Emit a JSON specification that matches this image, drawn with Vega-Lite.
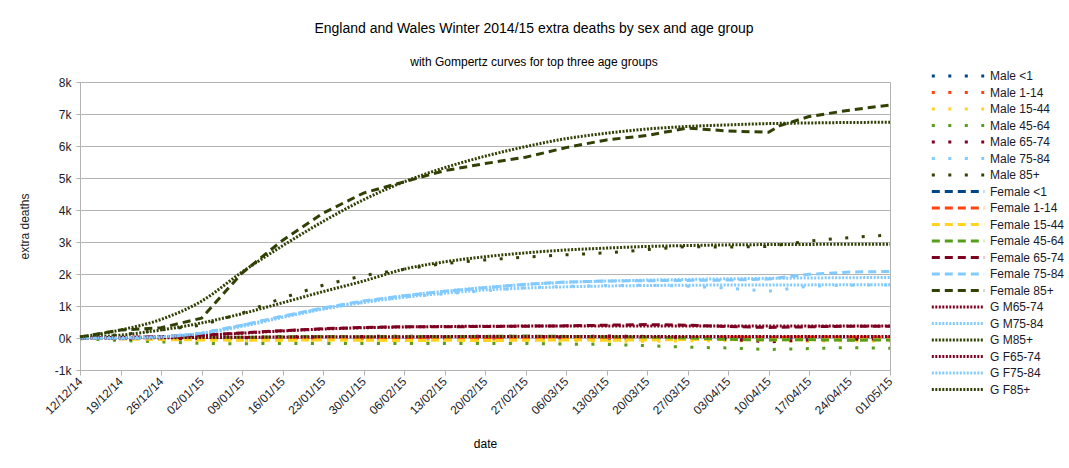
{
"$schema": "https://vega.github.io/schema/vega-lite/v6.json",
"autosize": "none",
"width": 810, "height": 288,
"padding": {"left": 80, "top": 82, "right": 179, "bottom": 98},
"background": "white",
"config": {"font": "Liberation Sans", "view": {"stroke": "#b3b3b3"}},
"title": {"text": "England and Wales Winter 2014/15 extra deaths by sex and age group", "subtitle": "with Gompertz curves for top three age groups", "fontSize": 14, "fontWeight": "normal", "color": "#000", "subtitleFontSize": 12, "subtitleColor": "#000", "subtitleFont": "Liberation Sans", "font": "Liberation Sans", "anchor": "middle", "frame": "group", "dx": 49, "subtitlePadding": 21, "offset": 2},
"datasets": {"pts": [
{"s":"Male <1","d":"2014/12/12","v":0},{"s":"Male <1","d":"2014/12/19","v":5},{"s":"Male <1","d":"2014/12/26","v":-5},{"s":"Male <1","d":"2015/01/02","v":0},{"s":"Male <1","d":"2015/01/09","v":-10},{"s":"Male <1","d":"2015/01/16","v":5},{"s":"Male <1","d":"2015/01/23","v":0},{"s":"Male <1","d":"2015/01/30","v":-5},{"s":"Male <1","d":"2015/02/06","v":10},{"s":"Male <1","d":"2015/02/13","v":0},{"s":"Male <1","d":"2015/02/20","v":-5},{"s":"Male <1","d":"2015/02/27","v":5},{"s":"Male <1","d":"2015/03/06","v":0},{"s":"Male <1","d":"2015/03/13","v":-10},{"s":"Male <1","d":"2015/03/20","v":5},{"s":"Male <1","d":"2015/03/27","v":0},{"s":"Male <1","d":"2015/04/03","v":10},{"s":"Male <1","d":"2015/04/10","v":-5},{"s":"Male <1","d":"2015/04/17","v":0},{"s":"Male <1","d":"2015/04/24","v":5},{"s":"Male <1","d":"2015/05/01","v":0},
{"s":"Male 1-14","d":"2014/12/12","v":0},{"s":"Male 1-14","d":"2014/12/19","v":10},{"s":"Male 1-14","d":"2014/12/26","v":5},{"s":"Male 1-14","d":"2015/01/02","v":-10},{"s":"Male 1-14","d":"2015/01/09","v":0},{"s":"Male 1-14","d":"2015/01/16","v":10},{"s":"Male 1-14","d":"2015/01/23","v":5},{"s":"Male 1-14","d":"2015/01/30","v":0},{"s":"Male 1-14","d":"2015/02/06","v":15},{"s":"Male 1-14","d":"2015/02/13","v":5},{"s":"Male 1-14","d":"2015/02/20","v":0},{"s":"Male 1-14","d":"2015/02/27","v":10},{"s":"Male 1-14","d":"2015/03/06","v":20},{"s":"Male 1-14","d":"2015/03/13","v":10},{"s":"Male 1-14","d":"2015/03/20","v":30},{"s":"Male 1-14","d":"2015/03/27","v":20},{"s":"Male 1-14","d":"2015/04/03","v":40},{"s":"Male 1-14","d":"2015/04/10","v":30},{"s":"Male 1-14","d":"2015/04/17","v":40},{"s":"Male 1-14","d":"2015/04/24","v":30},{"s":"Male 1-14","d":"2015/05/01","v":40},
{"s":"Male 15-44","d":"2014/12/12","v":0},{"s":"Male 15-44","d":"2014/12/19","v":-40},{"s":"Male 15-44","d":"2014/12/26","v":-60},{"s":"Male 15-44","d":"2015/01/02","v":-80},{"s":"Male 15-44","d":"2015/01/09","v":-90},{"s":"Male 15-44","d":"2015/01/16","v":-80},{"s":"Male 15-44","d":"2015/01/23","v":-100},{"s":"Male 15-44","d":"2015/01/30","v":-90},{"s":"Male 15-44","d":"2015/02/06","v":-100},{"s":"Male 15-44","d":"2015/02/13","v":-110},{"s":"Male 15-44","d":"2015/02/20","v":-100},{"s":"Male 15-44","d":"2015/02/27","v":-100},{"s":"Male 15-44","d":"2015/03/06","v":-90},{"s":"Male 15-44","d":"2015/03/13","v":-100},{"s":"Male 15-44","d":"2015/03/20","v":-110},{"s":"Male 15-44","d":"2015/03/27","v":-90},{"s":"Male 15-44","d":"2015/04/03","v":-80},{"s":"Male 15-44","d":"2015/04/10","v":-90},{"s":"Male 15-44","d":"2015/04/17","v":-100},{"s":"Male 15-44","d":"2015/04/24","v":-90},{"s":"Male 15-44","d":"2015/05/01","v":-90},
{"s":"Male 45-64","d":"2014/12/12","v":-20},{"s":"Male 45-64","d":"2014/12/19","v":-80},{"s":"Male 45-64","d":"2014/12/26","v":-120},{"s":"Male 45-64","d":"2015/01/02","v":-170},{"s":"Male 45-64","d":"2015/01/09","v":-180},{"s":"Male 45-64","d":"2015/01/16","v":-170},{"s":"Male 45-64","d":"2015/01/23","v":-170},{"s":"Male 45-64","d":"2015/01/30","v":-170},{"s":"Male 45-64","d":"2015/02/06","v":-170},{"s":"Male 45-64","d":"2015/02/13","v":-170},{"s":"Male 45-64","d":"2015/02/20","v":-170},{"s":"Male 45-64","d":"2015/02/27","v":-170},{"s":"Male 45-64","d":"2015/03/06","v":-190},{"s":"Male 45-64","d":"2015/03/13","v":-200},{"s":"Male 45-64","d":"2015/03/20","v":-240},{"s":"Male 45-64","d":"2015/03/27","v":-290},{"s":"Male 45-64","d":"2015/04/03","v":-310},{"s":"Male 45-64","d":"2015/04/10","v":-360},{"s":"Male 45-64","d":"2015/04/17","v":-330},{"s":"Male 45-64","d":"2015/04/24","v":-300},{"s":"Male 45-64","d":"2015/05/01","v":-320},
{"s":"Male 65-74","d":"2014/12/12","v":0},{"s":"Male 65-74","d":"2014/12/19","v":-30},{"s":"Male 65-74","d":"2014/12/26","v":-40},{"s":"Male 65-74","d":"2015/01/02","v":-10},{"s":"Male 65-74","d":"2015/01/09","v":10},{"s":"Male 65-74","d":"2015/01/16","v":50},{"s":"Male 65-74","d":"2015/01/23","v":40},{"s":"Male 65-74","d":"2015/01/30","v":50},{"s":"Male 65-74","d":"2015/02/06","v":60},{"s":"Male 65-74","d":"2015/02/13","v":40},{"s":"Male 65-74","d":"2015/02/20","v":60},{"s":"Male 65-74","d":"2015/02/27","v":50},{"s":"Male 65-74","d":"2015/03/06","v":40},{"s":"Male 65-74","d":"2015/03/13","v":60},{"s":"Male 65-74","d":"2015/03/20","v":50},{"s":"Male 65-74","d":"2015/03/27","v":20},{"s":"Male 65-74","d":"2015/04/03","v":-40},{"s":"Male 65-74","d":"2015/04/10","v":-120},{"s":"Male 65-74","d":"2015/04/17","v":-60},{"s":"Male 65-74","d":"2015/04/24","v":-40},{"s":"Male 65-74","d":"2015/05/01","v":-30},
{"s":"Male 75-84","d":"2014/12/12","v":0},{"s":"Male 75-84","d":"2014/12/19","v":-10},{"s":"Male 75-84","d":"2014/12/26","v":30},{"s":"Male 75-84","d":"2015/01/02","v":160},{"s":"Male 75-84","d":"2015/01/09","v":400},{"s":"Male 75-84","d":"2015/01/16","v":680},{"s":"Male 75-84","d":"2015/01/23","v":920},{"s":"Male 75-84","d":"2015/01/30","v":1120},{"s":"Male 75-84","d":"2015/02/06","v":1280},{"s":"Male 75-84","d":"2015/02/13","v":1380},{"s":"Male 75-84","d":"2015/02/20","v":1480},{"s":"Male 75-84","d":"2015/02/27","v":1570},{"s":"Male 75-84","d":"2015/03/06","v":1610},{"s":"Male 75-84","d":"2015/03/13","v":1640},{"s":"Male 75-84","d":"2015/03/20","v":1650},{"s":"Male 75-84","d":"2015/03/27","v":1620},{"s":"Male 75-84","d":"2015/04/03","v":1560},{"s":"Male 75-84","d":"2015/04/10","v":1460},{"s":"Male 75-84","d":"2015/04/17","v":1620},{"s":"Male 75-84","d":"2015/04/24","v":1650},{"s":"Male 75-84","d":"2015/05/01","v":1660},
{"s":"Male 85+","d":"2014/12/12","v":20},{"s":"Male 85+","d":"2014/12/19","v":100},{"s":"Male 85+","d":"2014/12/26","v":250},{"s":"Male 85+","d":"2015/01/02","v":400},{"s":"Male 85+","d":"2015/01/09","v":780},{"s":"Male 85+","d":"2015/01/16","v":1250},{"s":"Male 85+","d":"2015/01/23","v":1650},{"s":"Male 85+","d":"2015/01/30","v":1950},{"s":"Male 85+","d":"2015/02/06","v":2150},{"s":"Male 85+","d":"2015/02/13","v":2330},{"s":"Male 85+","d":"2015/02/20","v":2440},{"s":"Male 85+","d":"2015/02/27","v":2530},{"s":"Male 85+","d":"2015/03/06","v":2600},{"s":"Male 85+","d":"2015/03/13","v":2660},{"s":"Male 85+","d":"2015/03/20","v":2760},{"s":"Male 85+","d":"2015/03/27","v":2860},{"s":"Male 85+","d":"2015/04/03","v":2840},{"s":"Male 85+","d":"2015/04/10","v":2860},{"s":"Male 85+","d":"2015/04/17","v":3030},{"s":"Male 85+","d":"2015/04/24","v":3140},{"s":"Male 85+","d":"2015/05/01","v":3220},
{"s":"Female <1","d":"2014/12/12","v":0},{"s":"Female <1","d":"2014/12/19","v":-5},{"s":"Female <1","d":"2014/12/26","v":5},{"s":"Female <1","d":"2015/01/02","v":0},{"s":"Female <1","d":"2015/01/09","v":5},{"s":"Female <1","d":"2015/01/16","v":-10},{"s":"Female <1","d":"2015/01/23","v":0},{"s":"Female <1","d":"2015/01/30","v":5},{"s":"Female <1","d":"2015/02/06","v":-5},{"s":"Female <1","d":"2015/02/13","v":0},{"s":"Female <1","d":"2015/02/20","v":10},{"s":"Female <1","d":"2015/02/27","v":-5},{"s":"Female <1","d":"2015/03/06","v":0},{"s":"Female <1","d":"2015/03/13","v":5},{"s":"Female <1","d":"2015/03/20","v":-5},{"s":"Female <1","d":"2015/03/27","v":0},{"s":"Female <1","d":"2015/04/03","v":5},{"s":"Female <1","d":"2015/04/10","v":0},{"s":"Female <1","d":"2015/04/17","v":-5},{"s":"Female <1","d":"2015/04/24","v":0},{"s":"Female <1","d":"2015/05/01","v":5},
{"s":"Female 1-14","d":"2014/12/12","v":0},{"s":"Female 1-14","d":"2014/12/19","v":5},{"s":"Female 1-14","d":"2014/12/26","v":10},{"s":"Female 1-14","d":"2015/01/02","v":0},{"s":"Female 1-14","d":"2015/01/09","v":-5},{"s":"Female 1-14","d":"2015/01/16","v":5},{"s":"Female 1-14","d":"2015/01/23","v":10},{"s":"Female 1-14","d":"2015/01/30","v":5},{"s":"Female 1-14","d":"2015/02/06","v":0},{"s":"Female 1-14","d":"2015/02/13","v":10},{"s":"Female 1-14","d":"2015/02/20","v":5},{"s":"Female 1-14","d":"2015/02/27","v":15},{"s":"Female 1-14","d":"2015/03/06","v":10},{"s":"Female 1-14","d":"2015/03/13","v":20},{"s":"Female 1-14","d":"2015/03/20","v":15},{"s":"Female 1-14","d":"2015/03/27","v":25},{"s":"Female 1-14","d":"2015/04/03","v":30},{"s":"Female 1-14","d":"2015/04/10","v":25},{"s":"Female 1-14","d":"2015/04/17","v":30},{"s":"Female 1-14","d":"2015/04/24","v":35},{"s":"Female 1-14","d":"2015/05/01","v":30},
{"s":"Female 15-44","d":"2014/12/12","v":0},{"s":"Female 15-44","d":"2014/12/19","v":-30},{"s":"Female 15-44","d":"2014/12/26","v":-50},{"s":"Female 15-44","d":"2015/01/02","v":-60},{"s":"Female 15-44","d":"2015/01/09","v":-70},{"s":"Female 15-44","d":"2015/01/16","v":-70},{"s":"Female 15-44","d":"2015/01/23","v":-60},{"s":"Female 15-44","d":"2015/01/30","v":-70},{"s":"Female 15-44","d":"2015/02/06","v":-80},{"s":"Female 15-44","d":"2015/02/13","v":-70},{"s":"Female 15-44","d":"2015/02/20","v":-80},{"s":"Female 15-44","d":"2015/02/27","v":-70},{"s":"Female 15-44","d":"2015/03/06","v":-60},{"s":"Female 15-44","d":"2015/03/13","v":-70},{"s":"Female 15-44","d":"2015/03/20","v":-60},{"s":"Female 15-44","d":"2015/03/27","v":-50},{"s":"Female 15-44","d":"2015/04/03","v":-50},{"s":"Female 15-44","d":"2015/04/10","v":-60},{"s":"Female 15-44","d":"2015/04/17","v":-50},{"s":"Female 15-44","d":"2015/04/24","v":-60},{"s":"Female 15-44","d":"2015/05/01","v":-50},
{"s":"Female 45-64","d":"2014/12/12","v":0},{"s":"Female 45-64","d":"2014/12/19","v":20},{"s":"Female 45-64","d":"2014/12/26","v":10},{"s":"Female 45-64","d":"2015/01/02","v":30},{"s":"Female 45-64","d":"2015/01/09","v":20},{"s":"Female 45-64","d":"2015/01/16","v":40},{"s":"Female 45-64","d":"2015/01/23","v":50},{"s":"Female 45-64","d":"2015/01/30","v":40},{"s":"Female 45-64","d":"2015/02/06","v":50},{"s":"Female 45-64","d":"2015/02/13","v":40},{"s":"Female 45-64","d":"2015/02/20","v":50},{"s":"Female 45-64","d":"2015/02/27","v":60},{"s":"Female 45-64","d":"2015/03/06","v":50},{"s":"Female 45-64","d":"2015/03/13","v":40},{"s":"Female 45-64","d":"2015/03/20","v":30},{"s":"Female 45-64","d":"2015/03/27","v":0},{"s":"Female 45-64","d":"2015/04/03","v":-40},{"s":"Female 45-64","d":"2015/04/10","v":-60},{"s":"Female 45-64","d":"2015/04/17","v":-50},{"s":"Female 45-64","d":"2015/04/24","v":-70},{"s":"Female 45-64","d":"2015/05/01","v":-60},
{"s":"Female 65-74","d":"2014/12/12","v":0},{"s":"Female 65-74","d":"2014/12/19","v":20},{"s":"Female 65-74","d":"2014/12/26","v":40},{"s":"Female 65-74","d":"2015/01/02","v":90},{"s":"Female 65-74","d":"2015/01/09","v":160},{"s":"Female 65-74","d":"2015/01/16","v":230},{"s":"Female 65-74","d":"2015/01/23","v":290},{"s":"Female 65-74","d":"2015/01/30","v":330},{"s":"Female 65-74","d":"2015/02/06","v":350},{"s":"Female 65-74","d":"2015/02/13","v":350},{"s":"Female 65-74","d":"2015/02/20","v":360},{"s":"Female 65-74","d":"2015/02/27","v":370},{"s":"Female 65-74","d":"2015/03/06","v":380},{"s":"Female 65-74","d":"2015/03/13","v":400},{"s":"Female 65-74","d":"2015/03/20","v":420},{"s":"Female 65-74","d":"2015/03/27","v":400},{"s":"Female 65-74","d":"2015/04/03","v":360},{"s":"Female 65-74","d":"2015/04/10","v":330},{"s":"Female 65-74","d":"2015/04/17","v":350},{"s":"Female 65-74","d":"2015/04/24","v":370},{"s":"Female 65-74","d":"2015/05/01","v":370},
{"s":"Female 75-84","d":"2014/12/12","v":0},{"s":"Female 75-84","d":"2014/12/19","v":-20},{"s":"Female 75-84","d":"2014/12/26","v":10},{"s":"Female 75-84","d":"2015/01/02","v":150},{"s":"Female 75-84","d":"2015/01/09","v":400},{"s":"Female 75-84","d":"2015/01/16","v":680},{"s":"Female 75-84","d":"2015/01/23","v":940},{"s":"Female 75-84","d":"2015/01/30","v":1160},{"s":"Female 75-84","d":"2015/02/06","v":1320},{"s":"Female 75-84","d":"2015/02/13","v":1460},{"s":"Female 75-84","d":"2015/02/20","v":1570},{"s":"Female 75-84","d":"2015/02/27","v":1680},{"s":"Female 75-84","d":"2015/03/06","v":1750},{"s":"Female 75-84","d":"2015/03/13","v":1780},{"s":"Female 75-84","d":"2015/03/20","v":1790},{"s":"Female 75-84","d":"2015/03/27","v":1800},{"s":"Female 75-84","d":"2015/04/03","v":1810},{"s":"Female 75-84","d":"2015/04/10","v":1840},{"s":"Female 75-84","d":"2015/04/17","v":1990},{"s":"Female 75-84","d":"2015/04/24","v":2060},{"s":"Female 75-84","d":"2015/05/01","v":2080},
{"s":"Female 85+","d":"2014/12/12","v":30},{"s":"Female 85+","d":"2014/12/19","v":250},{"s":"Female 85+","d":"2014/12/26","v":320},{"s":"Female 85+","d":"2015/01/02","v":620},{"s":"Female 85+","d":"2015/01/09","v":2030},{"s":"Female 85+","d":"2015/01/16","v":3050},{"s":"Female 85+","d":"2015/01/23","v":3900},{"s":"Female 85+","d":"2015/01/30","v":4530},{"s":"Female 85+","d":"2015/02/06","v":4880},{"s":"Female 85+","d":"2015/02/13","v":5230},{"s":"Female 85+","d":"2015/02/20","v":5450},{"s":"Female 85+","d":"2015/02/27","v":5650},{"s":"Female 85+","d":"2015/03/06","v":5950},{"s":"Female 85+","d":"2015/03/13","v":6190},{"s":"Female 85+","d":"2015/03/20","v":6330},{"s":"Female 85+","d":"2015/03/27","v":6560},{"s":"Female 85+","d":"2015/04/03","v":6470},{"s":"Female 85+","d":"2015/04/10","v":6430},{"s":"Female 85+","d":"2015/04/12","v":6640},{"s":"Female 85+","d":"2015/04/17","v":6920},{"s":"Female 85+","d":"2015/04/24","v":7120},{"s":"Female 85+","d":"2015/05/01","v":7280},
{"s":"G M65-74","d":"2014/12/12","v":0},{"s":"G M65-74","d":"2014/12/19","v":3},{"s":"G M65-74","d":"2014/12/26","v":8},{"s":"G M65-74","d":"2015/01/02","v":15},{"s":"G M65-74","d":"2015/01/09","v":23},{"s":"G M65-74","d":"2015/01/16","v":30},{"s":"G M65-74","d":"2015/01/23","v":36},{"s":"G M65-74","d":"2015/01/30","v":40},{"s":"G M65-74","d":"2015/02/06","v":42},{"s":"G M65-74","d":"2015/02/13","v":44},{"s":"G M65-74","d":"2015/02/20","v":45},{"s":"G M65-74","d":"2015/02/27","v":45},{"s":"G M65-74","d":"2015/03/06","v":45},{"s":"G M65-74","d":"2015/03/13","v":45},{"s":"G M65-74","d":"2015/03/20","v":45},{"s":"G M65-74","d":"2015/03/27","v":45},{"s":"G M65-74","d":"2015/04/03","v":45},{"s":"G M65-74","d":"2015/04/10","v":45},{"s":"G M65-74","d":"2015/04/17","v":45},{"s":"G M65-74","d":"2015/04/24","v":45},{"s":"G M65-74","d":"2015/05/01","v":45},
{"s":"G M75-84","d":"2014/12/12","v":0},{"s":"G M75-84","d":"2014/12/19","v":10},{"s":"G M75-84","d":"2014/12/26","v":40},{"s":"G M75-84","d":"2015/01/02","v":140},{"s":"G M75-84","d":"2015/01/09","v":360},{"s":"G M75-84","d":"2015/01/16","v":640},{"s":"G M75-84","d":"2015/01/23","v":900},{"s":"G M75-84","d":"2015/01/30","v":1110},{"s":"G M75-84","d":"2015/02/06","v":1270},{"s":"G M75-84","d":"2015/02/13","v":1400},{"s":"G M75-84","d":"2015/02/20","v":1500},{"s":"G M75-84","d":"2015/02/27","v":1560},{"s":"G M75-84","d":"2015/03/06","v":1600},{"s":"G M75-84","d":"2015/03/13","v":1625},{"s":"G M75-84","d":"2015/03/20","v":1640},{"s":"G M75-84","d":"2015/03/27","v":1650},{"s":"G M75-84","d":"2015/04/03","v":1655},{"s":"G M75-84","d":"2015/04/10","v":1658},{"s":"G M75-84","d":"2015/04/17","v":1660},{"s":"G M75-84","d":"2015/04/24","v":1662},{"s":"G M75-84","d":"2015/05/01","v":1662},
{"s":"G M85+","d":"2014/12/12","v":0},{"s":"G M85+","d":"2014/12/19","v":90},{"s":"G M85+","d":"2014/12/26","v":250},{"s":"G M85+","d":"2015/01/02","v":470},{"s":"G M85+","d":"2015/01/09","v":760},{"s":"G M85+","d":"2015/01/16","v":1100},{"s":"G M85+","d":"2015/01/23","v":1450},{"s":"G M85+","d":"2015/01/30","v":1780},{"s":"G M85+","d":"2015/02/06","v":2150},{"s":"G M85+","d":"2015/02/13","v":2380},{"s":"G M85+","d":"2015/02/20","v":2540},{"s":"G M85+","d":"2015/02/27","v":2660},{"s":"G M85+","d":"2015/03/06","v":2750},{"s":"G M85+","d":"2015/03/13","v":2810},{"s":"G M85+","d":"2015/03/20","v":2860},{"s":"G M85+","d":"2015/03/27","v":2890},{"s":"G M85+","d":"2015/04/03","v":2910},{"s":"G M85+","d":"2015/04/10","v":2920},{"s":"G M85+","d":"2015/04/17","v":2925},{"s":"G M85+","d":"2015/04/24","v":2930},{"s":"G M85+","d":"2015/05/01","v":2930},
{"s":"G F65-74","d":"2014/12/12","v":0},{"s":"G F65-74","d":"2014/12/19","v":15},{"s":"G F65-74","d":"2014/12/26","v":40},{"s":"G F65-74","d":"2015/01/02","v":85},{"s":"G F65-74","d":"2015/01/09","v":150},{"s":"G F65-74","d":"2015/01/16","v":220},{"s":"G F65-74","d":"2015/01/23","v":280},{"s":"G F65-74","d":"2015/01/30","v":320},{"s":"G F65-74","d":"2015/02/06","v":345},{"s":"G F65-74","d":"2015/02/13","v":360},{"s":"G F65-74","d":"2015/02/20","v":368},{"s":"G F65-74","d":"2015/02/27","v":372},{"s":"G F65-74","d":"2015/03/06","v":375},{"s":"G F65-74","d":"2015/03/13","v":376},{"s":"G F65-74","d":"2015/03/20","v":377},{"s":"G F65-74","d":"2015/03/27","v":377},{"s":"G F65-74","d":"2015/04/03","v":377},{"s":"G F65-74","d":"2015/04/10","v":377},{"s":"G F65-74","d":"2015/04/17","v":377},{"s":"G F65-74","d":"2015/04/24","v":377},{"s":"G F65-74","d":"2015/05/01","v":377},
{"s":"G F75-84","d":"2014/12/12","v":0},{"s":"G F75-84","d":"2014/12/19","v":10},{"s":"G F75-84","d":"2014/12/26","v":40},{"s":"G F75-84","d":"2015/01/02","v":150},{"s":"G F75-84","d":"2015/01/09","v":390},{"s":"G F75-84","d":"2015/01/16","v":660},{"s":"G F75-84","d":"2015/01/23","v":920},{"s":"G F75-84","d":"2015/01/30","v":1140},{"s":"G F75-84","d":"2015/02/06","v":1320},{"s":"G F75-84","d":"2015/02/13","v":1460},{"s":"G F75-84","d":"2015/02/20","v":1580},{"s":"G F75-84","d":"2015/02/27","v":1670},{"s":"G F75-84","d":"2015/03/06","v":1740},{"s":"G F75-84","d":"2015/03/13","v":1780},{"s":"G F75-84","d":"2015/03/20","v":1810},{"s":"G F75-84","d":"2015/03/27","v":1830},{"s":"G F75-84","d":"2015/04/03","v":1850},{"s":"G F75-84","d":"2015/04/10","v":1865},{"s":"G F75-84","d":"2015/04/17","v":1875},{"s":"G F75-84","d":"2015/04/24","v":1885},{"s":"G F75-84","d":"2015/05/01","v":1890},
{"s":"G F85+","d":"2014/12/12","v":30},{"s":"G F85+","d":"2014/12/19","v":250},{"s":"G F85+","d":"2014/12/26","v":580},{"s":"G F85+","d":"2015/01/02","v":1150},{"s":"G F85+","d":"2015/01/09","v":2060},{"s":"G F85+","d":"2015/01/16","v":2880},{"s":"G F85+","d":"2015/01/23","v":3640},{"s":"G F85+","d":"2015/01/30","v":4320},{"s":"G F85+","d":"2015/02/06","v":4880},{"s":"G F85+","d":"2015/02/13","v":5320},{"s":"G F85+","d":"2015/02/20","v":5680},{"s":"G F85+","d":"2015/02/27","v":5980},{"s":"G F85+","d":"2015/03/06","v":6230},{"s":"G F85+","d":"2015/03/13","v":6400},{"s":"G F85+","d":"2015/03/20","v":6530},{"s":"G F85+","d":"2015/03/27","v":6610},{"s":"G F85+","d":"2015/04/03","v":6660},{"s":"G F85+","d":"2015/04/10","v":6700},{"s":"G F85+","d":"2015/04/17","v":6720},{"s":"G F85+","d":"2015/04/24","v":6735},{"s":"G F85+","d":"2015/05/01","v":6740}
]},
"data": {"name": "pts"},
"encoding": {
  "x": {"field": "d", "type": "temporal", "title": "date",
    "scale": {"domain": [{"year": 2014, "month": 12, "date": 12}, {"year": 2015, "month": 5, "date": 1}]},
    "axis": {"values": [{"year":2014,"month":12,"date":12},{"year":2014,"month":12,"date":19},{"year":2014,"month":12,"date":26},{"year":2015,"month":1,"date":2},{"year":2015,"month":1,"date":9},{"year":2015,"month":1,"date":16},{"year":2015,"month":1,"date":23},{"year":2015,"month":1,"date":30},{"year":2015,"month":2,"date":6},{"year":2015,"month":2,"date":13},{"year":2015,"month":2,"date":20},{"year":2015,"month":2,"date":27},{"year":2015,"month":3,"date":6},{"year":2015,"month":3,"date":13},{"year":2015,"month":3,"date":20},{"year":2015,"month":3,"date":27},{"year":2015,"month":4,"date":3},{"year":2015,"month":4,"date":10},{"year":2015,"month":4,"date":17},{"year":2015,"month":4,"date":24},{"year":2015,"month":5,"date":1}],
      "format": "%d/%m/%y", "labelAngle": -45, "labelAlign": "right", "labelBaseline": "middle", "labelFontSize": 12, "labelColor": "#1a1a2a", "labelPadding": 4, "labelOverlap": false, "labelFlush": false,
      "grid": false, "domainColor": "#b3b3b3", "tickColor": "#b3b3b3", "tickSize": 5,
      "titleFontSize": 12, "titleFontWeight": "normal", "titleColor": "#000", "titlePadding": 22}},
  "y": {"field": "v", "type": "quantitative", "title": "extra deaths",
    "scale": {"domain": [-1000, 8000], "nice": false, "zero": false},
    "axis": {"values": [-1000,0,1000,2000,3000,4000,5000,6000,7000,8000], "labelExpr": "(datum.value/1000) + 'k'", "labelFontSize": 12, "labelColor": "#1a1a2a", "labelPadding": 5,
      "grid": true, "gridColor": "#b3b3b3", "domainColor": "#b3b3b3", "tickColor": "#b3b3b3", "tickSize": 4,
      "titleFontSize": 12, "titleFontWeight": "normal", "titleColor": "#222", "titlePadding": 23}},
  "color": {"field": "s", "type": "nominal",
    "scale": {"domain": ["Male <1","Male 1-14","Male 15-44","Male 45-64","Male 65-74","Male 75-84","Male 85+","Female <1","Female 1-14","Female 15-44","Female 45-64","Female 65-74","Female 75-84","Female 85+","G M65-74","G M75-84","G M85+","G F65-74","G F75-84","G F85+"],
      "range": ["#004586","#ff420e","#ffd320","#579d1c","#7e0021","#83caff","#314004","#004586","#ff420e","#ffd320","#579d1c","#7e0021","#83caff","#314004","#7e0021","#83caff","#314004","#7e0021","#83caff","#314004"]},
    "legend": {"title": null, "orient": "none", "legendX": 851, "legendY": -12, "symbolType": "M-7,0H7", "symbolSize": 56, "symbolStrokeWidth": 3, "symbolOffset": 21, "labelOffset": 26, "labelFontSize": 12, "labelColor": "#1a1a2a", "rowPadding": 4.5, "padding": 0}},
  "strokeDash": {"field": "s", "type": "nominal",
    "scale": {"domain": ["Male <1","Male 1-14","Male 15-44","Male 45-64","Male 65-74","Male 75-84","Male 85+","Female <1","Female 1-14","Female 15-44","Female 45-64","Female 65-74","Female 75-84","Female 85+","G M65-74","G M75-84","G M85+","G F65-74","G F75-84","G F85+"],
      "range": [[3,13.5],[3,13.5],[3,13.5],[3,13.5],[3,13.5],[3,13.5],[3,13.5],[8,5],[8,5],[8,5],[8,5],[8,5],[8,5],[8,5],[2,1.5],[2,1.5],[2,1.5],[2,1.5],[2,1.5],[2,1.5]]},
    "legend": {"title": null, "orient": "none", "legendX": 851, "legendY": -12, "symbolType": "M-7,0H7", "symbolSize": 56, "symbolStrokeWidth": 3, "symbolOffset": 21, "labelOffset": 26, "labelFontSize": 12, "labelColor": "#1a1a2a", "rowPadding": 4.5, "padding": 0}}
},
"layer": [
  {"transform": [{"filter": "indexof(datum.s, 'G ') !== 0"}], "mark": {"type": "line", "strokeWidth": 3}},
  {"transform": [{"filter": "indexof(datum.s, 'G ') === 0"}], "mark": {"type": "line", "strokeWidth": 3, "interpolate": "monotone"}}
]
}
